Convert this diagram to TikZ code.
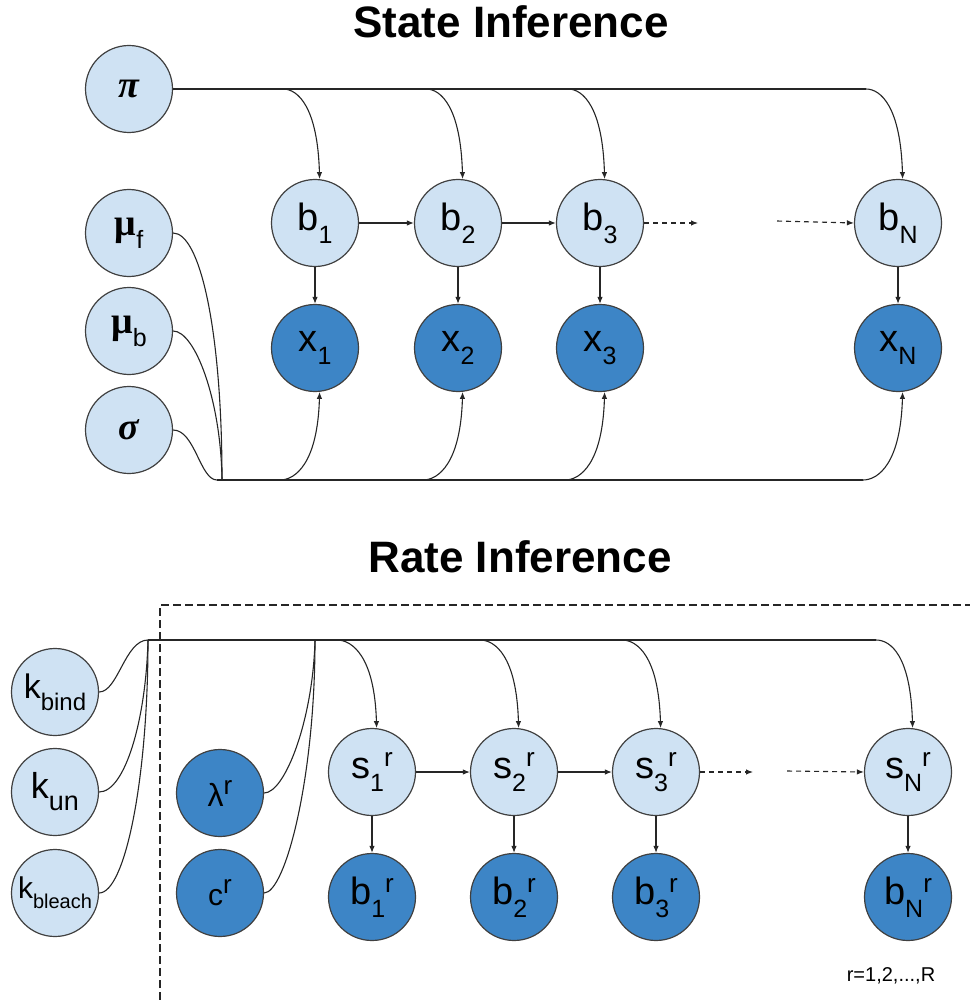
\documentclass[tikz,border=0pt]{standalone}
\usepackage{fontspec}
\setmainfont{Liberation Sans}
\newfontfamily\grkfont{Liberation Serif}
\usetikzlibrary{arrows.meta}

\definecolor{lightnode}{HTML}{CFE2F3}
\definecolor{darknode}{HTML}{3D85C6}
\definecolor{rimcol}{HTML}{404040}
\definecolor{linecol}{HTML}{262626}

% lowered / raised small text for indices
\newcommand{\subtxt}[1]{\raisebox{-13pt}{\fontsize{25}{25}\selectfont #1}}
\newcommand{\suptxt}[1]{\raisebox{12pt}{\fontsize{26}{26}\selectfont #1}}
\newcommand{\sizedtxt}[2]{{\fontsize{#1}{#1}\selectfont #2}}

\tikzset{
  latent/.style={circle, draw=rimcol, line width=1.2pt, fill=lightnode,
    minimum size=87pt, inner sep=0pt, font=\fontsize{38}{40}\selectfont},
  observed/.style={latent, fill=darknode},
  wireline/.style={draw=linecol, line width=1.1pt},
  arr/.style={wireline, -{Latex[length=7pt,width=5.5pt]}},
  dasharr/.style={arr, dash pattern=on 5pt off 4pt},
  frame/.style={draw=linecol, line width=1.1pt, dash pattern=on 8pt off 4pt},
  title/.style={font=\fontsize{44}{46}\selectfont\bfseries},
}

\begin{document}
\begin{tikzpicture}[x=1pt,y=-1pt]
\useasboundingbox (0,0) rectangle (970,1000);

% ---------------- titles ----------------
\node[title] (t1) at (511,22) {State Inference};
\node[title] (t2) at (520,557) {Rate Inference};

% ---------------- state model ----------------
\node[latent] (pi)  at (129,89)  {\grkfont\bfseries\itshape π};
\node[latent] (muf) at (129,233) {{\grkfont\bfseries μ}\subtxt{f}};
\node[latent] (mub) at (129,331) {{\grkfont\bfseries μ}\subtxt{b}};
\node[latent] (sig) at (129,430) {\grkfont\bfseries\itshape σ};

\node[latent]   (b1) at (315,223) {b\subtxt{1}};
\node[latent]   (b2) at (458,223) {b\subtxt{2}};
\node[latent]   (b3) at (600,223) {b\subtxt{3}};
\node[latent]   (bN) at (898,223) {b\subtxt{N}};
\node[observed] (x1) at (315,348) {x\subtxt{1}};
\node[observed] (x2) at (458,348) {x\subtxt{2}};
\node[observed] (x3) at (600,348) {x\subtxt{3}};
\node[observed] (xN) at (898,348) {x\subtxt{N}};

% bus points
\coordinate (tb1) at (283,89);
\coordinate (tb2) at (426,89);
\coordinate (tb3) at (568,89);
\coordinate (tbN) at (866,89);
\coordinate (bb0) at (217,480);
\coordinate (bjn) at (222,480);
\coordinate (bx1) at (280,480);
\coordinate (bx2) at (423,480);
\coordinate (bx3) at (565,480);
\coordinate (bxN) at (863,480);
\coordinate (bgapA) at (698,223);
\coordinate (bgapB) at (777,221);

% prior on the initial / transition state
\draw[wireline] (pi.east) -- (tbN);
\foreach \t/\n in {tb1/b1, tb2/b2, tb3/b3, tbN/bN}
  \draw[arr] (\t) .. controls +(15,0) and +(-2,-72) .. (\n.84);

% emission parameters
\draw[wireline] (muf.east) .. controls (200,233) and (222,330) .. (bjn);
\draw[wireline] (mub.east) .. controls (195,331) and (221,400) .. (bjn);
\draw[wireline] (sig.east) .. controls (195,430) and (200,480) .. (bb0);
\draw[wireline] (bb0) -- (bxN);
\foreach \t/\n in {bx1/x1, bx2/x2, bx3/x3, bxN/xN}
  \draw[arr] (\t) .. controls +(15,0) and +(-2,72) .. (\n.-84);

% chain
\draw[arr] (b1) -- (b2);
\draw[arr] (b2) -- (b3);
\draw[dasharr] (b3.east) -- (bgapA);
\draw[dasharr] (bgapB) -- (bN.west);
\foreach \i in {1,2,3,N}
  \draw[arr] (b\i) -- (x\i);

% ---------------- rate model ----------------
\draw[frame] (160,1000) -- (160,605) -- (970,605);

\node[latent] (kbind)   at (55,692) {\sizedtxt{34}{k}\raisebox{-12pt}{\fontsize{24}{24}\selectfont bind}};
\node[latent] (kun)     at (55,792) {\sizedtxt{36}{k}\raisebox{-12pt}{\fontsize{27}{27}\selectfont un}};
\node[latent] (kbleach) at (55,893) {\sizedtxt{30}{k}\raisebox{-10pt}{\fontsize{20}{20}\selectfont bleach}};

\node[observed] (lam) at (220,793) {\sizedtxt{32}{λ}\suptxt{r}};
\node[observed] (cr)  at (220,893) {\sizedtxt{30}{c}\suptxt{r}};

\node[latent] (s1) at (372,772) {s\subtxt{1}\suptxt{r}};
\node[latent] (s2) at (514,772) {s\subtxt{2}\suptxt{r}};
\node[latent] (s3) at (656,772) {s\subtxt{3}\suptxt{r}};
\node[latent] (sN) at (908,772) {s\subtxt{N}\suptxt{r}};
\node[observed] (r1) at (372,897) {b\subtxt{1}\suptxt{r}};
\node[observed] (r2) at (514,897) {b\subtxt{2}\suptxt{r}};
\node[observed] (r3) at (656,897) {b\subtxt{3}\suptxt{r}};
\node[observed] (rN) at (908,897) {b\subtxt{N}\suptxt{r}};

\coordinate (rbus) at (148,640);
\coordinate (rjn)  at (315,640);
\coordinate (ts1) at (337,640);
\coordinate (ts2) at (480,640);
\coordinate (ts3) at (622,640);
\coordinate (tsN) at (876,640);
\coordinate (sgapA) at (753,772);
\coordinate (sgapB) at (787,771);

\draw[wireline] (kbind.east)   .. controls (118,692) and (125,640) .. (rbus);
\draw[wireline] (kun.east)     .. controls (125,792) and (146,720) .. (rbus);
\draw[wireline] (kbleach.east) .. controls (125,893) and (148,780) .. (rbus);
\draw[wireline] (lam.east) .. controls (285,793) and (313,720) .. (rjn);
\draw[wireline] (cr.east)  .. controls (285,893) and (315,780) .. (rjn);
\draw[wireline] (rbus) -- (tsN);
\foreach \t/\n in {ts1/s1, ts2/s2, ts3/s3, tsN/sN}
  \draw[arr] (\t) .. controls +(15,0) and +(-2,-72) .. (\n.84);

\draw[arr] (s1) -- (s2);
\draw[arr] (s2) -- (s3);
\draw[dasharr] (s3.east) -- (sgapA);
\draw[dasharr] (sgapB) -- (sN.west);
\foreach \i in {1,2,3,N}
  \draw[arr] (s\i) -- (r\i);

\node[font=\fontsize{20}{22}\selectfont] (rng) at (891,976) {r=1,2,...,R};
\end{tikzpicture}
\end{document}
